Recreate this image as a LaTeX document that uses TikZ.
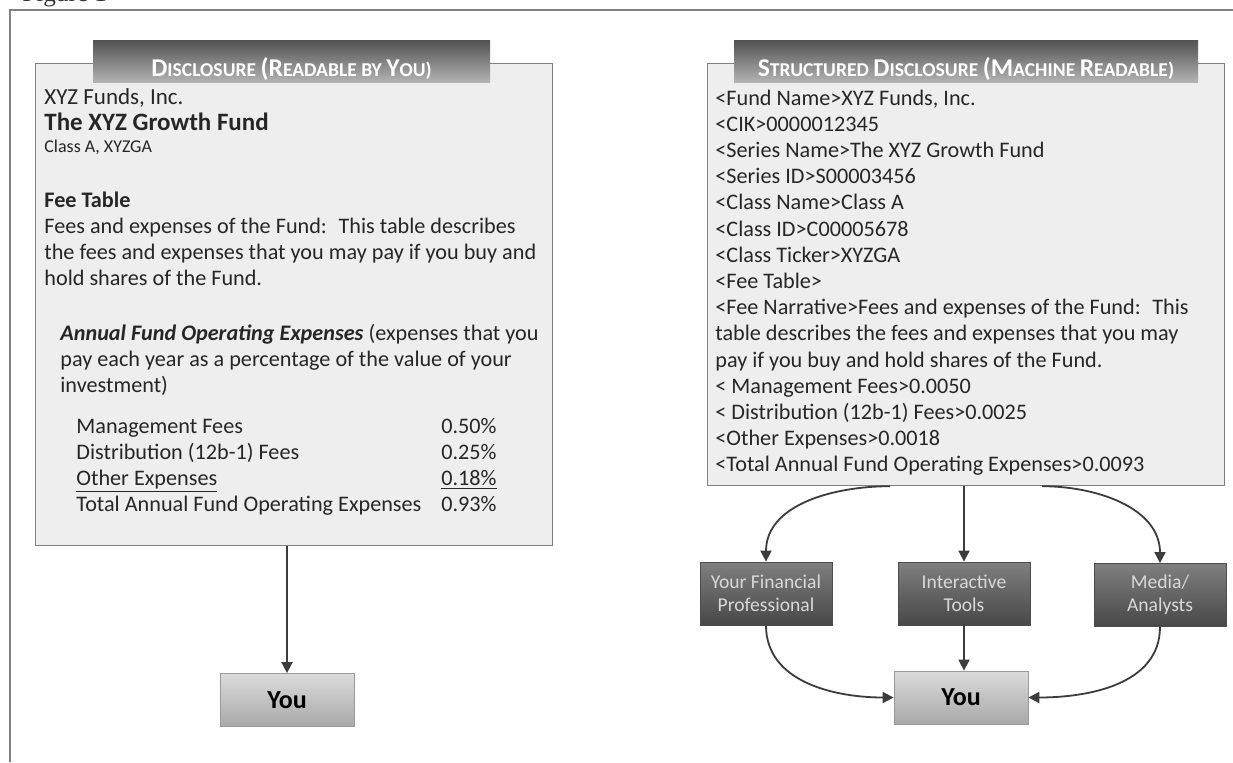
\documentclass[tikz,border=0pt]{standalone}
\usepackage{fontspec}
\setmainfont{Carlito}
\newfontfamily\figfont{Liberation Serif}
\usetikzlibrary{positioning,arrows.meta}
\definecolor{inkgray}{HTML}{3C3C3C}
\definecolor{rulegray}{HTML}{808080}
\definecolor{paper}{HTML}{EEEEEE}
\newcommand{\hsc}[2]{{\fontsize{12.8}{14}\selectfont #1}{\fontsize{9.8}{11}\selectfont #2}}
\tikzset{
  panel/.style={draw=rulegray,fill=paper,line width=0.6pt,anchor=north west,inner sep=0pt},
  tab/.style={top color=black!68,bottom color=black!30,draw=none,text=white,font=\bfseries,minimum height=21pt,inner sep=0pt,text height=15pt,text depth=0pt},
  body/.style={anchor=base west,inner sep=0pt,font=\fontsize{11.1}{13}\selectfont,text=black!85},
  darkbx/.style={top color=black!50,bottom color=black!72,draw=black!70,text=white!85!black,font=\fontsize{9.8}{11.5}\selectfont,align=center,minimum width=66pt,minimum height=31.5pt,inner sep=1pt},
  youbx/.style={top color=black!14,bottom color=black!34,draw=black!40,font=\bfseries\fontsize{13}{15}\selectfont,minimum width=67pt,minimum height=26.5pt},
  flow/.style={-{Triangle[length=5.5pt,width=5.5pt]},draw=inkgray,line width=0.9pt},
}
\begin{document}
\begin{tikzpicture}[x=0.5pt,y=0.5pt]
\useasboundingbox (0,0) rectangle (1233,-762);
\fill[white] (0,0) rectangle (1233,-762);
\node[anchor=base west,inner sep=0pt,font=\figfont\fontsize{12.6}{14}\selectfont,text=black!80] (figlbl) at (22,-1) {Figure 1};
\draw[rulegray,line width=0.6pt] (10,-762) |- (1233,-10);

% readable side
\node[panel,minimum width=258.5pt,minimum height=241pt] (lpanel) at (35,-63) {};
\node[tab,minimum width=198.5pt] (ltab) at (291.5,-61) {\hsc{D}{ISCLOSURE} \hsc{(R}{EADABLE BY} \hsc{Y}{OU)}};
\node[body,font=\fontsize{11.5}{13}\selectfont] (fundco) at (44,-104) {XYZ Funds, Inc.};
\node[body,font=\bfseries\fontsize{12.5}{15}\selectfont] (fundname) at (44,-130) {The XYZ Growth Fund};
\node[body,font=\fontsize{9}{11}\selectfont] (fundcls) at (44,-152) {Class A, XYZGA};
\node[body,font=\bfseries\fontsize{11.1}{13}\selectfont] (feehd) at (44,-207) {Fee Table};
\node[body] (fee1) at (44,-233) {Fees and expenses of the Fund:~ This table describes};
\node[body] (fee2) at (44,-259) {the fees and expenses that you may pay if you buy and};
\node[body] (fee3) at (44,-285) {hold shares of the Fund.};
\node[body] (afo1) at (60,-340) {\textbf{\textit{Annual Fund Operating Expenses}} (expenses that you};
\node[body] (afo2) at (60,-366) {pay each year as a percentage of the value of your};
\node[body] (afo3) at (60,-392) {investment)};
\foreach \lbl/\pct [count=\i] in {Management Fees/0.50\%,Distribution (12b-1) Fees/0.25\%,\underline{Other Expenses}/\underline{0.18\%},Total Annual Fund Operating Expenses/0.93\%}{
  \node[body] (exn\i) at (76,-433-26*\i+26) {\lbl};
  \node[body,anchor=base east] (exv\i) at (497,-433-26*\i+26) {\pct};
}
\node[youbx] (youL) at (287,-700) {You};
\draw[flow] (lpanel.south -| youL) -- (youL.north);

% machine side
\node[panel,minimum width=258.5pt,minimum height=211pt] (rpanel) at (707,-63) {};
\node[tab,minimum width=232pt] (rtab) at (966,-61) {\hsc{S}{TRUCTURED} \hsc{D}{ISCLOSURE} \hsc{(M}{ACHINE} \hsc{R}{EADABLE)}};
\foreach \t [count=\i] in {{<Fund Name>XYZ Funds, Inc.},<CIK>0000012345,<Series Name>The XYZ Growth Fund,<Series ID>S00003456,<Class Name>Class A,<Class ID>C00005678,<Class Ticker>XYZGA,<Fee Table>,<Fee Narrative>Fees and expenses of the Fund:~ This,table describes the fees and expenses that you may,pay if you buy and hold shares of the Fund.,< Management Fees>0.0050,< Distribution (12b-1) Fees>0.0025,<Other Expenses>0.0018,<Total Annual Fund Operating Expenses>0.0093}
  \node[body] (tag\i) at (715,-105-26.2*\i+26.2) {\t};
\node[darkbx] (advisor) at (766,-593.5) {Your Financial\\Professional};
\node[darkbx] (tools) at (964,-593.5) {Interactive\\Tools};
\node[darkbx] (media) at (1160,-595) {Media/\\Analysts};
\node[youbx] (youR) at (961,-697.5) {You};
\draw[flow] (rpanel.south -| tools) -- (tools.north);
\draw[flow] ([xshift=-38pt]rpanel.south) to[out=180,in=90] (advisor.north);
\draw[flow] ([xshift=38pt]rpanel.south) to[out=0,in=90] (media.north);
\draw[flow] (tools.south) -- (tools.south |- youR.north);
\draw[flow] (advisor.south) to[out=-90,in=180] (youR.west);
\draw[flow] (media.south) to[out=-90,in=0] (youR.east);
\end{tikzpicture}
\end{document}
